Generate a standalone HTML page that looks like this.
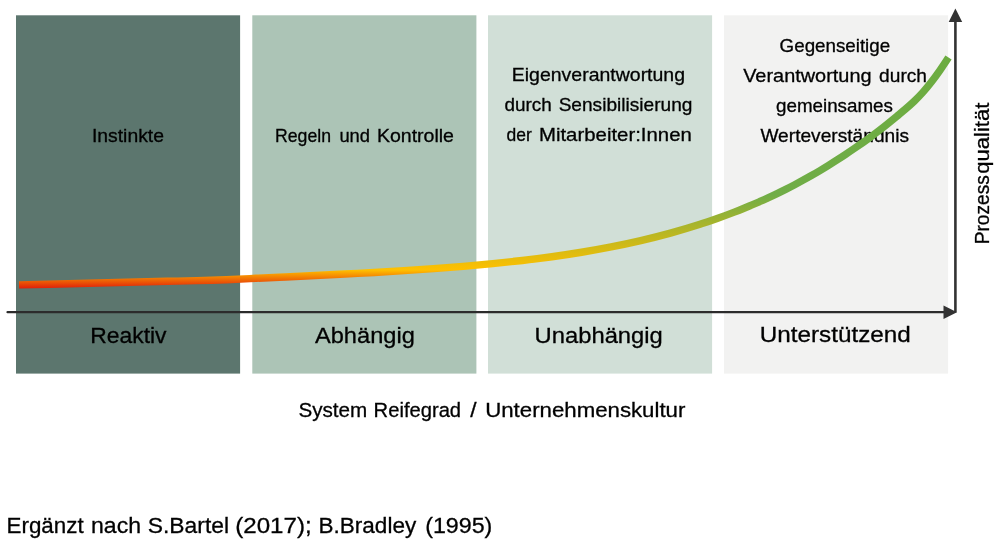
<!DOCTYPE html>
<html lang="de"><head><meta charset="utf-8"><title>Reifegrad</title>
<style>
html,body{margin:0;padding:0;background:#fff;}
body{width:1000px;height:542px;overflow:hidden;}
svg{display:block;}
text{font-family:"Liberation Sans",sans-serif;fill:#000;stroke:#000;stroke-width:0.3px;}
</style></head><body>
<svg width="1000" height="542" viewBox="0 0 1000 542">
<defs><linearGradient id="g" gradientUnits="userSpaceOnUse" x1="0" y1="288.7" x2="0" y2="54">
<stop offset="0.0000" stop-color="#e01c0a"/><stop offset="0.0797" stop-color="#ffc000"/><stop offset="0.3992" stop-color="#70ad47"/><stop offset="1.0000" stop-color="#6cac40"/>
</linearGradient></defs>
<rect x="0" y="0" width="1000" height="542" fill="#ffffff"/>
<rect x="16" y="15.3" width="224.1" height="358.3" fill="#5c766e"/>
<rect x="252.3" y="15.3" width="224.1" height="358.3" fill="#acc4b6"/>
<rect x="488" y="15.3" width="224.1" height="358.3" fill="#d1dfd7"/>
<rect x="724" y="15.3" width="224.1" height="358.3" fill="#f2f2f1"/>
<g id="labels" style="opacity:0.999">
<text transform="translate(91.92,141.50) scale(1.0758,1)" font-size="18">Instinkte</text>
<text transform="translate(275.02,141.60) scale(0.9821,1)" font-size="18">Regeln</text>
<text transform="translate(339.40,141.60) scale(1.0200,1)" font-size="18">und</text>
<text transform="translate(376.91,141.60) scale(1.0857,1)" font-size="18">Kontrolle</text>
<text transform="translate(511.77,81.30) scale(1.0827,1)" font-size="18">Eigenverantwortung</text>
<text transform="translate(504.45,111.40) scale(1.0500,1)" font-size="18">durch</text>
<text transform="translate(558.64,111.40) scale(1.0616,1)" font-size="18">Sensibilisierung</text>
<text transform="translate(506.50,141.20) scale(0.9712,1)" font-size="18">der</text>
<text transform="translate(538.97,141.20) scale(1.1321,1)" font-size="18">Mitarbeiter:Innen</text>
<text transform="translate(779.60,52.00) scale(1.0434,1)" font-size="18">Gegenseitige</text>
<text transform="translate(743.20,81.90) scale(1.1060,1)" font-size="18">Verantwortung</text>
<text transform="translate(879.10,81.90) scale(1.0644,1)" font-size="18">durch</text>
<text transform="translate(776.00,111.90) scale(1.0446,1)" font-size="18">gemeinsames</text>
<text transform="translate(760.40,141.90) scale(1.0636,1)" font-size="18">Werteverständnis</text>
<text transform="translate(90.16,343.00) scale(1.0417,1)" font-size="22">Reaktiv</text>
<text transform="translate(315.00,342.60) scale(1.0734,1)" font-size="22">Abhängig</text>
<text transform="translate(534.62,342.50) scale(1.0803,1)" font-size="22">Unabhängig</text>
<text transform="translate(759.70,342.40) scale(1.1030,1)" font-size="22">Unterstützend</text>
<text transform="translate(298.43,416.80) scale(1.0182,1)" font-size="20.3">System</text>
<text transform="translate(373.61,416.80) scale(0.9943,1)" font-size="20.3">Reifegrad</text>
<text transform="translate(470.20,416.80) scale(1.1167,1)" font-size="20.3">/</text>
<text transform="translate(485.20,416.80) scale(1.0956,1)" font-size="20.3">Unternehmenskultur</text>
<text transform="translate(6.51,533.00) scale(0.9903,1)" font-size="22.6">Ergänzt</text>
<text transform="translate(90.98,533.00) scale(1.0213,1)" font-size="22.6">nach</text>
<text transform="translate(147.74,533.00) scale(1.0127,1)" font-size="22.6">S.Bartel</text>
<text transform="translate(235.18,533.00) scale(1.0688,1)" font-size="22.6">(2017);</text>
<text transform="translate(318.50,533.00) scale(0.9974,1)" font-size="22.6">B.Bradley</text>
<text transform="translate(425.22,533.00) scale(1.0273,1)" font-size="22.6">(1995)</text>
<text transform="translate(989.40,244.34) rotate(-90) scale(0.9431,1)" font-size="20.3">Prozess</text>
<text transform="translate(989.40,173.80) rotate(-90) scale(1.0864,1)" font-size="20.3">qualität</text>
</g>
<path d="M7.5,312.2 H946" stroke="#2c2c2c" stroke-width="2.2" stroke-linecap="round" fill="none"/>
<path d="M955.4,312.2 V20" stroke="#333333" stroke-width="2.6" fill="none"/>
<path d="M943.5,305.5 L957,312.2 L943.5,319 Z" fill="#333333"/>
<path d="M948.7,22 L955.4,8.5 L962.2,22 Z" fill="#333333"/>
<path d="M19.00,284.90 C28.87,284.70 38.74,284.46 48.61,284.21 C58.48,283.96 68.35,283.70 78.22,283.46 C88.09,283.21 97.96,282.98 107.83,282.74 C117.70,282.50 127.57,282.26 137.43,282.01 C147.30,281.76 157.17,281.51 167.04,281.29 C176.91,281.08 186.78,280.90 196.65,280.66 C206.52,280.43 216.39,280.12 226.26,279.70 C236.13,279.28 246.00,278.78 255.87,278.30 C265.74,277.82 275.61,277.38 285.48,276.93 C295.35,276.49 305.22,276.04 315.09,275.56 C324.96,275.07 334.83,274.57 344.70,274.05 C354.57,273.54 364.43,273.00 374.30,272.44 C384.17,271.88 394.04,271.28 403.91,270.65 C413.78,270.02 423.65,269.36 433.52,268.64 C443.39,267.93 453.26,267.16 463.13,266.33 C473.00,265.50 482.87,264.61 492.74,263.64 C502.61,262.67 512.48,261.62 522.35,260.47 C532.22,259.32 542.09,258.07 551.96,256.71 C561.83,255.34 571.70,253.86 581.57,252.23 C591.43,250.60 601.30,248.84 611.17,246.90 C621.04,244.97 630.91,242.87 640.78,240.58 C650.65,238.28 660.52,235.80 670.39,233.09 C680.26,230.38 690.13,227.44 700.00,224.26 C702.86,223.33 705.71,222.39 708.57,221.42 C711.43,220.46 714.28,219.47 717.14,218.46 C719.99,217.45 722.85,216.42 725.71,215.36 C728.56,214.30 731.42,213.22 734.28,212.11 C737.13,211.01 739.99,209.88 742.84,208.72 C745.70,207.56 748.56,206.38 751.41,205.18 C754.27,203.97 757.13,202.73 759.98,201.47 C762.84,200.21 765.70,198.92 768.55,197.60 C771.41,196.29 774.26,194.94 777.12,193.57 C779.98,192.19 782.83,190.79 785.69,189.35 C788.55,187.91 791.40,186.45 794.26,184.95 C797.11,183.45 799.97,181.92 802.83,180.36 C805.68,178.79 808.54,177.20 811.40,175.57 C814.25,173.94 817.11,172.27 819.97,170.57 C822.82,168.86 825.68,167.13 828.53,165.35 C831.39,163.58 834.25,161.78 837.10,159.94 C839.96,158.10 842.82,156.24 845.67,154.34 C848.53,152.45 851.39,150.52 854.24,148.57 C857.10,146.61 859.95,144.63 862.81,142.61 C865.67,140.59 868.52,138.54 871.38,136.43 C874.24,134.33 877.09,132.18 879.95,129.95 C882.80,127.73 885.66,125.44 888.52,123.12 C891.37,120.79 894.23,118.43 897.09,116.05 C899.94,113.68 902.80,111.32 905.66,108.89 C908.51,106.46 911.37,103.95 914.22,101.24 C917.08,98.53 919.94,95.62 922.79,92.41 C925.65,89.20 928.51,85.73 931.36,82.04 C934.22,78.34 937.07,74.43 939.93,70.34 C942.79,66.25 945.64,61.98 948.50,57.57" stroke="url(#g)" stroke-width="7.4" fill="none" stroke-linecap="butt"/>
</svg>
</body></html>
